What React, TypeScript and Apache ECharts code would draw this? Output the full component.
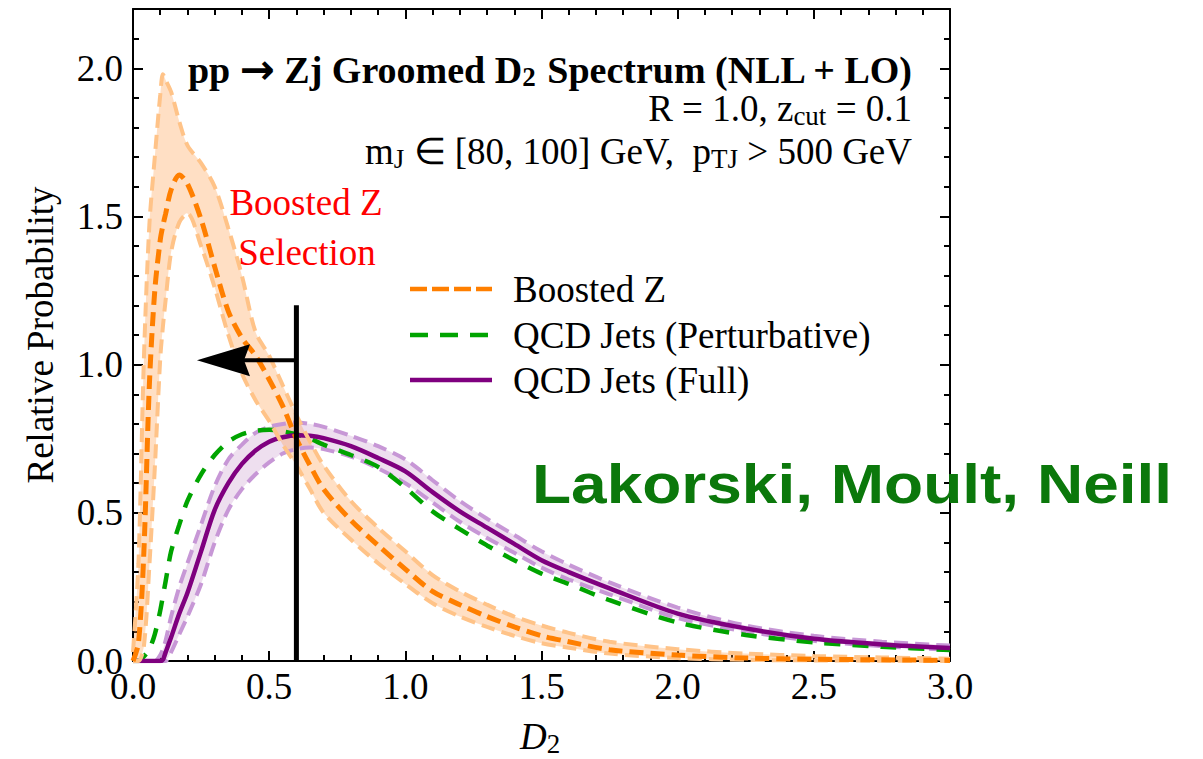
import React, { useEffect, useRef } from "react";
import * as echarts from "echarts";

const SERIF = '"Liberation Serif", "Times New Roman", Times, serif';
const SANS = '"Liberation Sans", Arial, Helvetica, sans-serif';

// D2 sample points shared by every curve
const d2Grid = [0, 0.02, 0.04, 0.06, 0.08, 0.1, 0.11, 0.12, 0.14, 0.17, 0.2, 0.25, 0.3, 0.35, 0.4, 0.45, 0.5, 0.55, 0.6, 0.65, 0.7, 0.8, 0.9, 1.0, 1.1, 1.2, 1.3, 1.4, 1.5, 1.6, 1.75, 2.0, 2.25, 2.5, 2.75, 3.0];

// Boosted Z: central value and uncertainty band
const boostedZ = [0, 0.06, 0.37, 0.93, 1.25, 1.42, 1.47, 1.51, 1.59, 1.64, 1.61, 1.49, 1.33, 1.18, 1.09, 1.03, 0.95, 0.86, 0.75, 0.66, 0.58, 0.475, 0.39, 0.31, 0.235, 0.19, 0.15, 0.115, 0.085, 0.065, 0.038, 0.02, 0.01, 0.006, 0.004, 0.002];
const boostedZUpper = [0.03, 0.33, 1.02, 1.47, 1.7, 1.91, 1.98, 1.96, 1.92, 1.82, 1.74, 1.68, 1.6, 1.46, 1.3, 1.11, 1.03, 0.93, 0.83, 0.74, 0.66, 0.54, 0.45, 0.37, 0.29, 0.235, 0.19, 0.15, 0.12, 0.095, 0.065, 0.04, 0.025, 0.017, 0.012, 0.008];
const boostedZLower = [0, 0, 0.05, 0.32, 0.65, 1.02, 1.13, 1.22, 1.38, 1.48, 1.51, 1.4, 1.26, 1.1, 0.97, 0.88, 0.81, 0.73, 0.66, 0.58, 0.5, 0.41, 0.33, 0.26, 0.195, 0.15, 0.115, 0.085, 0.06, 0.045, 0.025, 0.01, 0.004, 0.002, 0.001, 0];

// QCD jets, perturbative only
const qcdPerturbative = [0, 0, 0.015, 0.04, 0.09, 0.17, 0.22, 0.27, 0.37, 0.46, 0.54, 0.63, 0.695, 0.74, 0.765, 0.777, 0.78, 0.775, 0.765, 0.75, 0.73, 0.695, 0.655, 0.585, 0.505, 0.445, 0.39, 0.34, 0.295, 0.26, 0.205, 0.13, 0.088, 0.063, 0.048, 0.037];

// QCD jets, full: central value and uncertainty band
const qcdFull = [0, 0, 0, 0, 0, 0, 0.005, 0.03, 0.08, 0.16, 0.23, 0.37, 0.51, 0.6, 0.665, 0.71, 0.74, 0.755, 0.762, 0.76, 0.752, 0.725, 0.685, 0.64, 0.57, 0.505, 0.45, 0.395, 0.34, 0.3, 0.245, 0.16, 0.11, 0.075, 0.056, 0.044];
const qcdFullUpper = [0, 0, 0, 0, 0, 0.02, 0.04, 0.07, 0.15, 0.25, 0.33, 0.46, 0.59, 0.68, 0.73, 0.77, 0.79, 0.8, 0.805, 0.8, 0.79, 0.76, 0.725, 0.68, 0.61, 0.54, 0.48, 0.425, 0.37, 0.325, 0.265, 0.18, 0.12, 0.085, 0.065, 0.052];
const qcdFullLower = [0, 0, 0, 0, 0, 0, 0, 0, 0.03, 0.09, 0.15, 0.26, 0.4, 0.51, 0.58, 0.63, 0.67, 0.7, 0.715, 0.72, 0.715, 0.69, 0.65, 0.6, 0.535, 0.47, 0.415, 0.365, 0.315, 0.275, 0.225, 0.145, 0.1, 0.068, 0.05, 0.038];

// Selection cut and its arrow
const cutValue = 0.6;
const cutTop = 1.2;
const arrowLevel = 1.015;
const arrowTip = 0.235;

const legendItems = ["Boosted Z", "QCD Jets (Perturbative)", "QCD Jets (Full)"];

const ORANGE = "#ff7f00";
const ORANGE_EDGE = "#ffc388";
const ORANGE_FILL = "rgba(255,150,60,0.3)";
const PURPLE = "#7f007f";
const PURPLE_EDGE = "#c797d6";
const PURPLE_FILL = "rgba(140,40,150,0.15)";
const GREEN = "#00a400";
const TEXT_GREEN = "#0b780b";

const SMOOTH = 0.3;

const pairs = (ys: number[]) => d2Grid.map((x, i) => [x, ys[i]]);

// Shaded region between a lower and an upper curve, as one smoothed polygon
function bandFill(lo: number[], hi: number[], fill: string) {
  const ring = [...pairs(hi), ...pairs(lo).reverse()];
  return {
    type: "custom",
    coordinateSystem: "cartesian2d",
    silent: true,
    clip: true,
    data: [ring[0]],
    renderItem: (_params: any, api: any) => ({
      type: "polygon",
      shape: { points: ring.map((p) => api.coord(p)), smooth: SMOOTH },
      style: { fill },
    }),
  };
}

function bandEdges(lo: number[], hi: number[], edge: string) {
  const dash = { color: edge, width: 4, type: [14, 7] as any };
  return [
    { type: "line", data: pairs(hi), smooth: SMOOTH, symbol: "none", silent: true, lineStyle: dash },
    { type: "line", data: pairs(lo), smooth: SMOOTH, symbol: "none", silent: true, lineStyle: dash },
  ];
}

const black = { color: "#000", width: 2 };

function xAxes() {
  const base = { type: "value", min: 0, max: 3, splitLine: { show: false } };
  return [
    { ...base, position: "bottom", interval: 0.5, axisLine: { show: true, onZero: false, lineStyle: black }, axisTick: { inside: true, length: 10, lineStyle: black }, axisLabel: { fontFamily: SERIF, fontSize: 37, lineHeight: 28, color: "#000", margin: 11, formatter: (v: number) => v.toFixed(1) } },
    { ...base, position: "bottom", interval: 0.1, axisLine: { show: false, onZero: false }, axisTick: { inside: true, length: 6, lineStyle: black }, axisLabel: { show: false } },
    { ...base, position: "top", interval: 0.5, axisLine: { show: true, onZero: false, lineStyle: black }, axisTick: { inside: true, length: 10, lineStyle: black }, axisLabel: { show: false } },
    { ...base, position: "top", interval: 0.1, axisLine: { show: false, onZero: false }, axisTick: { inside: true, length: 6, lineStyle: black }, axisLabel: { show: false } },
  ];
}

function yAxes() {
  const base = { type: "value", min: 0, max: 2.2, splitLine: { show: false } };
  const half = (v: number) => Math.abs(v * 2 - Math.round(v * 2)) < 1e-6;
  return [
    {
      ...base, position: "left", interval: 0.5,
      name: "Relative Probability", nameLocation: "middle", nameGap: 74,
      nameTextStyle: { fontFamily: SERIF, fontSize: 37, color: "#000" },
      axisLine: { show: true, onZero: false, lineStyle: black },
      axisTick: { inside: true, length: 10, lineStyle: black },
      axisLabel: { fontFamily: SERIF, fontSize: 37, lineHeight: 20, color: "#000", margin: 10, formatter: (v: number) => (half(v) ? v.toFixed(1) : "") },
    },
    { ...base, position: "left", interval: 0.1, axisLine: { show: false, onZero: false }, axisTick: { inside: true, length: 6, lineStyle: black }, axisLabel: { show: false } },
    { ...base, position: "right", interval: 0.5, axisLine: { show: true, onZero: false, lineStyle: black }, axisTick: { inside: true, length: 10, lineStyle: black }, axisLabel: { show: false } },
    { ...base, position: "right", interval: 0.1, axisLine: { show: false, onZero: false }, axisTick: { inside: true, length: 6, lineStyle: black }, axisLabel: { show: false } },
  ];
}

function buildOption() {
  return {
    animation: false,
    backgroundColor: "#fff",
    grid: { left: 133, top: 9, width: 817, height: 652, containLabel: false },
    xAxis: xAxes(),
    yAxis: yAxes(),
    series: [
      bandFill(qcdFullLower, qcdFullUpper, PURPLE_FILL),
      ...bandEdges(qcdFullLower, qcdFullUpper, PURPLE_EDGE),
      { type: "line", name: legendItems[1], data: pairs(qcdPerturbative), smooth: SMOOTH, symbol: "none", lineStyle: { color: GREEN, width: 4.5, type: [16, 12] } },
      { type: "line", name: legendItems[2], data: pairs(qcdFull), smooth: SMOOTH, symbol: "none", lineStyle: { color: PURPLE, width: 4.5, type: "solid" } },
      bandFill(boostedZLower, boostedZUpper, ORANGE_FILL),
      ...bandEdges(boostedZLower, boostedZUpper, ORANGE_EDGE),
      { type: "line", name: legendItems[0], data: pairs(boostedZ), smooth: SMOOTH, symbol: "none", lineStyle: { color: ORANGE, width: 5, type: [14, 7] } },
    ],
  };
}

const serifFont = (size: number, weight = "normal", style = "normal") => `${style} ${weight} ${size}px ${SERIF}`;

function textEl(text: string, x: number, y: number, opts: any = {}) {
  const size = opts.size ?? 37;
  const weight = opts.weight ?? "normal";
  const fill = opts.fill ?? "#000";
  return {
    type: "text",
    x,
    y,
    z: 100,
    style: {
      text,
      font: serifFont(size, weight),
      fill,
      align: opts.align ?? "left",
      verticalAlign: "middle",
      lineHeight: 42,
      rich: {
        sub: { font: serifFont(27, weight), lineHeight: 27, verticalAlign: "bottom", fill },
        it: { font: serifFont(size, weight, "italic"), lineHeight: 42, fill },
        arr: { font: `bold 42px "DejaVu Sans", sans-serif`, lineHeight: 42, fill },
      },
    },
  };
}

function buildGraphics(px: (x: number, y: number) => number[]) {
  const [cutX, cutY0] = px(cutValue, 0);
  const [, cutY1] = px(cutValue, cutTop);
  const [tipX, arrowY] = px(arrowTip, arrowLevel);
  const headLen = 53;
  const headHalf = 16;
  const notch = 6;

  const legendColors = [ORANGE, GREEN, PURPLE];
  const legendDash: any[] = [[17, 5], [18, 12], null];
  const legendY = [289, 335, 380];

  const legend: any[] = [];
  legendItems.forEach((name, i) => {
    legend.push({
      type: "line",
      z: 100,
      shape: { x1: 410, y1: legendY[i], x2: 492, y2: legendY[i] },
      style: { stroke: legendColors[i], lineWidth: 4.5, lineDash: legendDash[i] },
    });
    legend.push(textEl(name, 513, legendY[i] + 0.5));
  });

  return [
    { type: "line", z: 100, shape: { x1: cutX, y1: cutY0, x2: cutX, y2: cutY1 }, style: { stroke: "#000", lineWidth: 5 } },
    { type: "line", z: 100, shape: { x1: cutX, y1: arrowY, x2: tipX + headLen - notch, y2: arrowY }, style: { stroke: "#000", lineWidth: 4 } },
    {
      type: "polygon",
      z: 100,
      shape: { points: [[tipX, arrowY], [tipX + headLen, arrowY - headHalf], [tipX + headLen - notch, arrowY], [tipX + headLen, arrowY + headHalf]] },
      style: { fill: "#000" },
    },
    textEl("pp {arr|→} Zj Groomed D{sub|2} Spectrum (NLL + LO)", 912, 69.5, { weight: "bold", align: "right", size: 38 }),
    textEl("R = 1.0, z{sub|cut} = 0.1", 912, 108.5, { align: "right" }),
    textEl("m{sub|J} ∈ [80, 100] GeV,  p{sub|TJ} > 500 GeV", 912, 151.5, { align: "right" }),
    textEl("Boosted Z", 306, 202.5, { align: "center", fill: "#ff0000" }),
    textEl("Selection", 307, 252.5, { align: "center", fill: "#ff0000" }),
    ...legend,
    textEl("{it|D}{sub|2}", 520, 736),
    {
      type: "text",
      x: 532,
      y: 484,
      scaleX: 1.143,
      z: 100,
      style: { text: "Lakorski, Moult, Neill", font: `bold 56px ${SANS}`, fill: TEXT_GREEN, align: "left", verticalAlign: "middle" },
    },
  ];
}

export default function App() {
  const ref = useRef<HTMLDivElement>(null);
  useEffect(() => {
    const chart = echarts.init(ref.current!, null, { renderer: "svg" });
    chart.setOption(buildOption() as any);
    const px = (x: number, y: number) => chart.convertToPixel({ xAxisIndex: 0, yAxisIndex: 0 }, [x, y]) as number[];
    chart.setOption({ graphic: buildGraphics(px) } as any);
    return () => chart.dispose();
  }, []);
  return <div ref={ref} style={{ position: "fixed", left: 0, top: 0, width: 1203, height: 759, background: "#fff" }} />;
}
